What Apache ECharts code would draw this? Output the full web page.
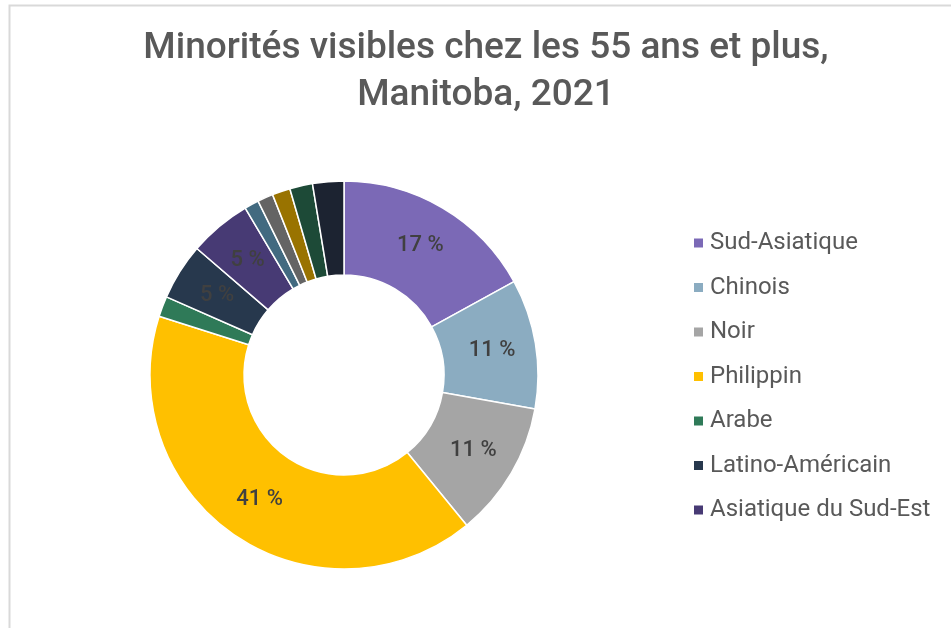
<!DOCTYPE html>
<html>
<head>
<meta charset="utf-8">
<script src="https://cdn.jsdelivr.net/npm/echarts@6/dist/echarts.min.js"></script>
<style>
  html, body { margin: 0; padding: 0; background: #fff; }
  #chart { width: 951px; height: 628px; }
</style>
</head>
<body>
<div id="chart"></div>
<script>
// categories (clockwise from 12 o'clock)
const categories = [
  'Sud-Asiatique', 'Chinois', 'Noir', 'Philippin', 'Arabe',
  'Latino-Américain', 'Asiatique du Sud-Est', 'Asiatique occidental',
  'Coréen', 'Japonais', 'Minorité visible n.i.a.', 'Minorités visibles multiples'
]
// share of the 55+ visible minority population, in %
const shares = [17.0, 10.8, 11.3, 40.8, 1.7, 4.7, 5.2, 1.2, 1.3, 1.5, 1.9, 2.6]
const colors = [
  '#7B69B6', '#8BACC1', '#A5A5A5', '#FFC000', '#2F7A58', '#27384D',
  '#473A74', '#426A80', '#646464', '#997300', '#1D4A37', '#1C2331'
]
// legend only lists the first 7 entries
const legendNames = categories.slice(0, 7)

const font = 'Roboto'
const chart = echarts.init(document.getElementById('chart'))

chart.setOption({
  animation: false,
  title: {
    text: 'Minorités visibles chez les 55 ans et plus,\nManitoba, 2021',
    left: 481,
    top: 20,
    textAlign: 'center',
    textStyle: {
      fontFamily: font,
      fontSize: 37,
      fontWeight: 500,
      color: '#595959',
      lineHeight: 47
    }
  },
  legend: {
    orient: 'vertical',
    left: 687,
    top: 226,
    data: legendNames,
    icon: 'rect',
    itemWidth: 11,
    itemHeight: 11,
    itemGap: 20.5,
    textStyle: {
      fontFamily: font,
      fontSize: 24,
      color: '#595959',
      padding: [0, 0, 0, 1]
    }
  },
  graphic: [{
    type: 'rect',
    shape: { x: 9.5, y: 5.5, width: 1200, height: 1200 },
    style: { fill: null, stroke: '#d9d9d9', lineWidth: 2 },
    silent: true
  }],
  series: [{
    type: 'pie',
    center: [344, 375],
    radius: [100, 194],
    startAngle: 90,
    clockwise: true,
    avoidLabelOverlap: false,
    itemStyle: { borderColor: '#fff', borderWidth: 1.5 },
    label: {
      show: true,
      position: 'inside',
      fontFamily: font,
      fontSize: 22,
      fontWeight: 500,
      color: '#404040',
      formatter: p => p.percent >= 4 ? Math.round(p.percent) + ' %' : ''
    },
    labelLine: { show: false },
    data: categories.map((name, i) => ({
      name,
      value: shares[i],
      itemStyle: { color: colors[i] }
    }))
  }]
})
</script>
</body>
</html>
